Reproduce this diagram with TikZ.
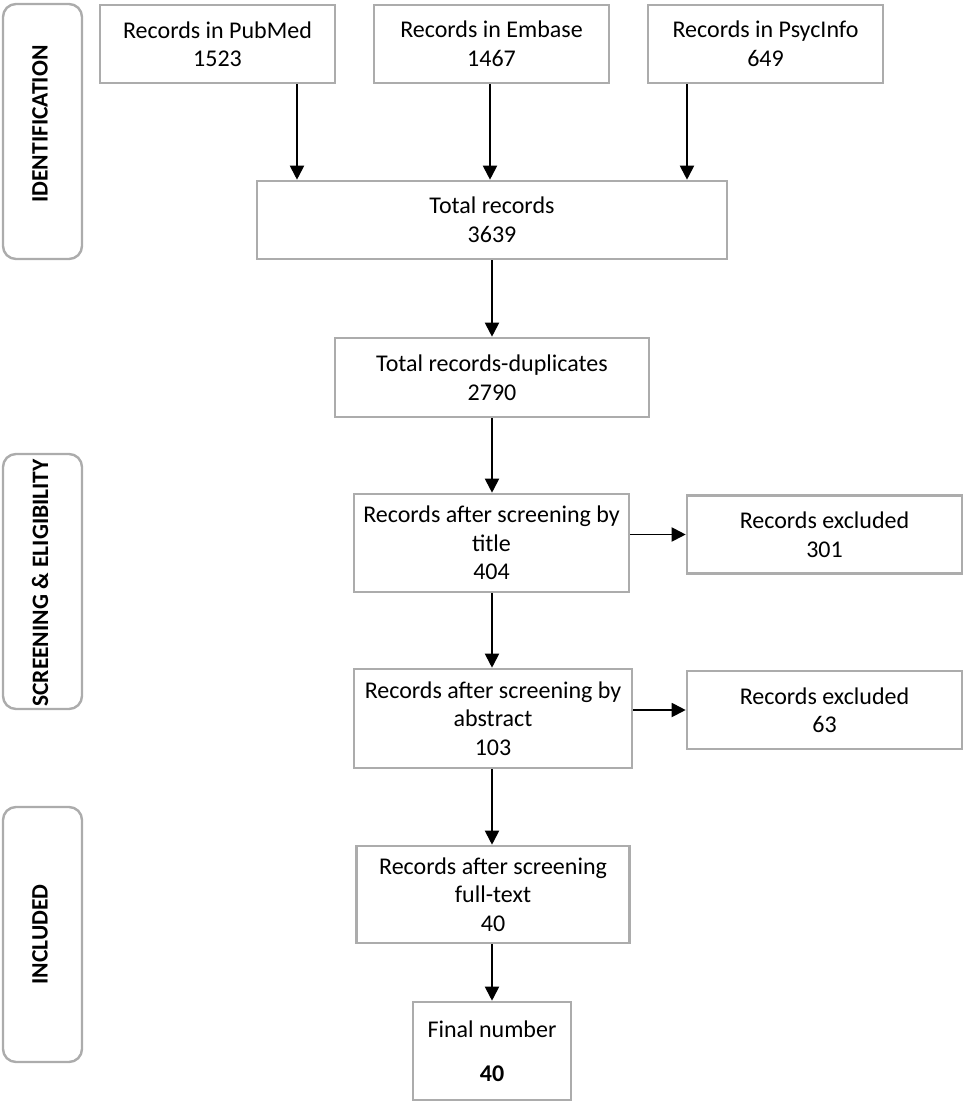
\documentclass[tikz,border=0pt]{standalone}
\usepackage{fontspec}
\setmainfont{Carlito}
\usetikzlibrary{arrows.meta}
\definecolor{boxgray}{RGB}{172,172,172}
\tikzset{
  flowbox/.style={draw=boxgray, line width=2.6pt, fill=white, inner sep=0pt,
    align=center, font=\fontsize{24}{28.5}\selectfont},
  sidebox/.style={draw=boxgray, line width=2.4pt, fill=white, rounded corners=13pt,
    inner sep=0pt, minimum width=79pt, minimum height=255pt},
  sidelabel/.style={rotate=90, font=\fontsize{23.5}{28}\selectfont\bfseries},
  arr/.style={draw=black, line width=1.9pt, -{Triangle[length=14pt,width=14pt]}}
}
\begin{document}
\begin{tikzpicture}[x=1pt,y=-1pt]
\useasboundingbox (0,0) rectangle (965,1106);
% side panels
\node[sidebox] (sid) at (42.5,131.5) {};
\node[sidelabel] (sidt) at (40,124) {IDENTIFICATION};
\node[sidebox] (sscr) at (42.5,581.5) {};
\node[sidelabel] (sscrt) at (40,583) {SCREENING \& ELIGIBILITY};
\node[sidebox] (sinc) at (42.5,934.5) {};
\node[sidelabel] (sinct) at (40,934.5) {INCLUDED};
% flow boxes
\node[flowbox, minimum width=235pt, minimum height=78pt] (pub) at (217.5,44) {Records in PubMed\\1523};
\node[flowbox, minimum width=235pt, minimum height=78pt] (emb) at (491.5,44) {Records in Embase\\1467};
\node[flowbox, minimum width=235pt, minimum height=78pt] (psy) at (765.5,44) {Records in PsycInfo\\649};
\node[flowbox, minimum width=470pt, minimum height=78pt] (tot) at (492,220) {Total records\\3639};
\node[flowbox, minimum width=314pt, minimum height=79pt] (dup) at (492,377.5) {Total records-duplicates\\2790};
\node[flowbox, minimum width=275pt, minimum height=98pt] (tit) at (491.5,543) {Records after screening by\\title\\404};
\node[flowbox, minimum width=275pt, minimum height=78pt] (ex1) at (824.5,534.5) {Records excluded\\301};
\node[flowbox, minimum width=278pt, minimum height=99pt] (abs) at (493,718.5) {Records after screening by\\abstract\\103};
\node[flowbox, minimum width=275pt, minimum height=78pt] (ex2) at (824.5,710) {Records excluded\\63};
\node[flowbox, minimum width=273pt, minimum height=97pt] (ful) at (493,894.5) {Records after screening\\full-text\\40};
\node[flowbox, minimum width=158pt, minimum height=98pt] (fin) at (492,1051) {Final number\\[16pt]\textbf{40}};
% connectors
\draw[arr] ([xshift=79.5pt]pub.south) -- ([xshift=79.5pt]pub.south |- tot.north);
\draw[arr] ([xshift=-1.5pt]emb.south) -- ([xshift=-1.5pt]emb.south |- tot.north);
\draw[arr] ([xshift=-78.5pt]psy.south) -- ([xshift=-78.5pt]psy.south |- tot.north);
\draw[arr] (tot.south) -- (tot.south |- dup.north);
\draw[arr] (dup.south) -- (dup.south |- tit.north);
\draw[arr] (ex1.west -| tit.east) -- (ex1.west);
\draw[arr] ([xshift=-1pt]abs.north |- tit.south) -- ([xshift=-1pt]abs.north);
\draw[arr] (ex2.west -| abs.east) -- (ex2.west);
\draw[arr] ([xshift=-1pt]abs.south) -- ([xshift=-1pt]abs.south |- ful.north);
\draw[arr] (fin.north |- ful.south) -- (fin.north);
\end{tikzpicture}
\end{document}
